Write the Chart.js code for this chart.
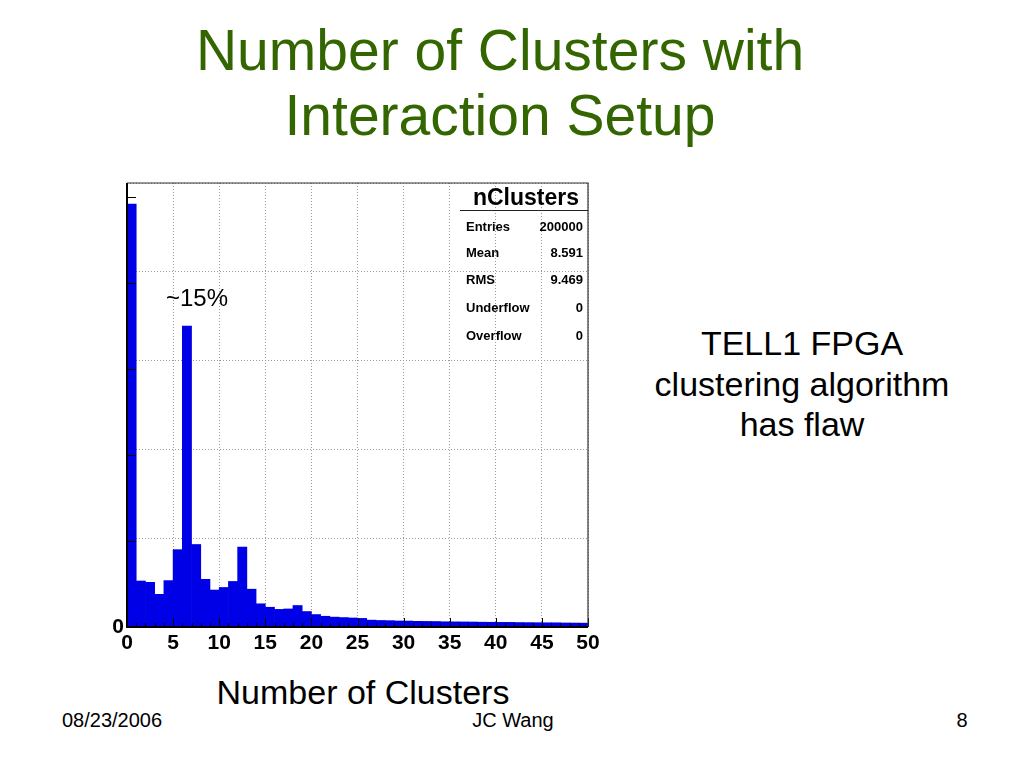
<!DOCTYPE html>
<html>
<head>
<meta charset="utf-8">
<script src="https://cdn.jsdelivr.net/npm/chart.js@4.4.1/dist/chart.umd.min.js"></script>
<style>
  body { margin: 0; width: 1024px; height: 768px; background: #fff; position: relative; overflow: hidden;
         font-family: "Liberation Sans", Arial, sans-serif; color: #000; }
  .abs { position: absolute; white-space: nowrap; }
  #title { left: 0; top: 18px; width: 1000px; text-align: center; color: #336600; font-size: 57px; line-height: 65px; }
  #note { left: 632px; top: 323px; width: 340px; text-align: center; font-size: 34px; line-height: 40.5px; }
  #xlabel { left: 163px; top: 672px; width: 400px; text-align: center; font-size: 34px; line-height: 40px; }
  .foot { top: 708px; font-size: 20px; line-height: 24px; }
  #wrap { left: 90px; top: 160px; width: 530px; height: 500px; }
  .stat { font-weight: bold; font-size: 13px; line-height: 16px; }
</style>
</head>
<body>
<div id="title" class="abs">Number of Clusters with<br>Interaction Setup</div>

<div id="wrap" class="abs"><canvas id="hist" width="530" height="500"></canvas></div>

<!-- stats box (ROOT style), transparent so the grid shows through -->
<div class="abs" style="left:460px; top:183px; width:119px; text-align:right; font-weight:bold; font-size:23px; line-height:28px;">nClusters</div>
<div class="abs" style="left:460px; top:210px; width:128px; height:0; border-top:1.5px solid #222;"></div>
<div id="stats"></div>

<div class="abs" style="left:166px; top:284px; font-size:24px; line-height:28px;">~15%</div>

<div id="note" class="abs">TELL1 FPGA<br>clustering algorithm<br>has flaw</div>
<div id="xlabel" class="abs">Number of Clusters</div>

<div class="abs foot" style="left:62px;">08/23/2006</div>
<div class="abs foot" style="left:413px; width:200px; text-align:center;">JC Wang</div>
<div class="abs foot" style="left:912px; width:100px; text-align:center;">8</div>

<script>
// histogram nClusters, 50 bins of width 1 from 0 to 50
const binLow = Array.from({ length: 50 }, (_, i) => i);
const counts = [
  49200, 5350, 5200, 3800, 5400, 9000, 35000, 9600, 5550, 4300,
  4600, 5300, 9300, 4400, 2700, 2300, 2050, 2100, 2500, 1800,
  1450, 1250, 1150, 1100, 1050, 1000, 800, 760, 740, 700,
  690, 660, 650, 640, 610, 600, 590, 580, 560, 550,
  540, 540, 520, 510, 500, 490, 490, 470, 460, 450
];
const xTicks = [0, 5, 10, 15, 20, 25, 30, 35, 40, 45, 50];
const yMax = 51660; // ROOT: 1.05 * max bin

const statNames = ['Entries', 'Mean', 'RMS', 'Underflow', 'Overflow'];
const statValues = ['200000', '8.591', '9.469', '0', '0'];

// stats rows
const statTop = [219, 245, 272, 300, 328];
const box = document.getElementById('stats');
statNames.forEach((name, i) => {
  const l = document.createElement('div');
  l.className = 'abs stat';
  l.style.left = '466px';
  l.style.top = statTop[i] + 'px';
  l.textContent = name;
  box.appendChild(l);
  const v = document.createElement('div');
  v.className = 'abs stat';
  v.style.left = '500px';
  v.style.width = '83px';
  v.style.textAlign = 'right';
  v.style.top = statTop[i] + 'px';
  v.textContent = statValues[i];
  box.appendChild(v);
});

// frame + inward ticks like ROOT
const frame = {
  id: 'frame',
  afterDatasetsDraw(chart) {
    const { ctx, chartArea: a, scales: { x, y } } = chart;
    ctx.save();
    ctx.strokeStyle = '#000';
    ctx.lineWidth = 1;
    ctx.beginPath();
    for (let v = 0; v <= 50; v++) {
      const px = Math.round(x.getPixelForValue(v)) + 0.5;
      const len = v % 5 === 0 ? 9 : 4;
      ctx.moveTo(px, a.bottom);
      ctx.lineTo(px, a.bottom - len);
    }
    for (let v = 0; v <= 50000; v += 10000) {
      const py = Math.round(y.getPixelForValue(v)) + 0.5;
      ctx.moveTo(a.left, py);
      ctx.lineTo(a.left + 9, py);
    }
    ctx.stroke();
    // thin top/right frame
    ctx.lineWidth = 1.2;
    ctx.strokeStyle = '#333';
    ctx.beginPath();
    ctx.moveTo(a.left, a.top);
    ctx.lineTo(a.right, a.top);
    ctx.lineTo(a.right, a.bottom);
    ctx.stroke();
    // axes
    ctx.lineWidth = 2;
    ctx.strokeStyle = '#000';
    ctx.beginPath();
    ctx.moveTo(a.left, a.top);
    ctx.lineTo(a.left, a.bottom);
    ctx.lineTo(a.right, a.bottom);
    ctx.stroke();
    ctx.restore();
  }
};

new Chart(document.getElementById('hist'), {
  type: 'bar',
  data: {
    datasets: [{
      data: counts.map((c, i) => ({ x: binLow[i] + 0.5, y: c })),
      backgroundColor: '#0000e6',
      borderWidth: 0,
      barPercentage: 1,
      categoryPercentage: 1
    }]
  },
  options: {
    responsive: false,
    animation: false,
    layout: { padding: { top: 23, right: 32, bottom: 0, left: 0 } },
    plugins: { legend: { display: false }, tooltip: { enabled: false } },
    scales: {
      x: {
        type: 'linear',
        min: 0,
        max: 50,
        offset: false,
        afterFit(s) { s.height = 33; },
        afterBuildTicks(s) { s.ticks = xTicks.map(v => ({ value: v })); },
        grid: { offset: false, color: '#9a9a9a', lineWidth: 1, drawTicks: false },
        border: { display: false, dash: [1, 2] },
        ticks: {
          padding: 4,
          maxRotation: 0,
          autoSkip: false,
          color: '#000',
          font: { family: 'Liberation Sans', weight: 'bold', size: 21 }
        }
      },
      y: {
        min: 0,
        max: yMax,
        afterFit(s) { s.width = 37; },
        grid: { color: '#9a9a9a', lineWidth: 1, drawTicks: false },
        border: { display: false, dash: [1, 2] },
        ticks: {
          stepSize: 10000,
          includeBounds: false,
          padding: 3,
          color: '#000',
          font: { family: 'Liberation Sans', weight: 'bold', size: 21 },
          callback: v => (v === 0 ? '0' : '')
        }
      }
    }
  },
  plugins: [frame]
});
</script>
</body>
</html>
